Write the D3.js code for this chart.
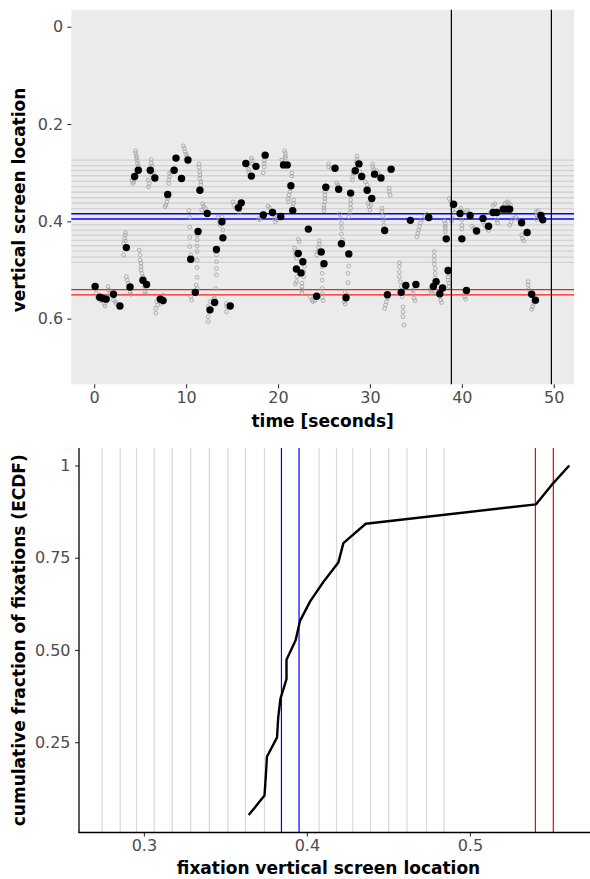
<!DOCTYPE html>
<html><head><meta charset="utf-8">
<script src="https://cdn.jsdelivr.net/npm/d3@7"></script>
<style>
body{margin:0;background:#fff}
svg{display:block}
text{font-family:"DejaVu Sans",sans-serif}
</style>
</head><body>
<svg id="chart" width="590" height="879"></svg>
<script>
// ---------- data ----------
const fixTime = [0.1,0.6,0.9,1.3,2.1,2.8,3.5,3.9,4.4,4.8,
  5.3,5.7,6.1,6.6,7.2,7.5,8.0,8.7,8.9,9.5,
  10.2,10.5,11.0,11.3,11.5,12.3,12.6,13.1,13.3,13.9,
  14.0,14.8,15.7,16.0,16.5,17.1,17.6,18.4,18.6,19.4,
  20.3,20.6,21.0,21.4,21.6,22.0,22.2,22.5,22.7,23.3,
  24.2,24.7,25.0,25.2,26.2,26.6,26.9,27.4,27.7,27.9,
  28.4,28.8,29.1,29.7,30.2,30.5,31.2,31.6,31.9,32.3,
  33.4,33.9,34.4,35.0,36.4,36.9,37.2,37.6,37.9,38.3,
  38.5,39.1,39.8,40.0,40.5,40.9,41.6,42.3,42.9,43.4,
  43.8,44.5,44.9,45.2,46.5,47.1,47.6,48.0,48.6,48.8];
const fixLoc = [0.534,0.556,0.558,0.560,0.550,0.574,0.454,0.535,0.308,0.295,
  0.521,0.530,0.295,0.311,0.560,0.563,0.345,0.295,0.270,0.312,
  0.274,0.478,0.546,0.421,0.336,0.384,0.582,0.567,0.458,0.401,
  0.434,0.574,0.372,0.362,0.281,0.307,0.287,0.387,0.264,0.382,
  0.390,0.284,0.284,0.327,0.378,0.498,0.466,0.506,0.483,0.416,
  0.554,0.463,0.487,0.330,0.291,0.334,0.446,0.557,0.467,0.342,
  0.296,0.282,0.308,0.336,0.353,0.303,0.311,0.419,0.551,0.293,
  0.546,0.532,0.398,0.530,0.392,0.534,0.524,0.549,0.537,0.436,
  0.501,0.365,0.384,0.436,0.542,0.388,0.420,0.394,0.410,0.382,
  0.382,0.375,0.375,0.375,0.403,0.423,0.550,0.562,0.388,0.397];

// raw gaze samples [time, vertical location]
const gazeSamples = [
[0.2,0.548],[0.3,0.555],[0.4,0.558],[0.7,0.563],[1.1,0.570],[1.2,0.574],[1.5,0.534],[1.6,0.541],[1.7,0.548],[1.5,0.555],
[2.1,0.562],[2.3,0.565],[2.4,0.569],
[3.4,0.423],[3.4,0.428],[3.3,0.435],[3.4,0.440],[3.2,0.445],[3.2,0.469],
[3.5,0.514],[3.6,0.521],[3.7,0.527],[3.8,0.538],[3.9,0.545],[4.0,0.550],
[4.5,0.255],[4.5,0.260],[4.6,0.266],[4.6,0.270],[4.7,0.275],[4.7,0.281],[4.8,0.286],[4.1,0.315],[4.2,0.322],[4.3,0.319],[4.3,0.312],
[4.9,0.459],[5.0,0.469],[5.0,0.480],[5.1,0.486],[5.1,0.493],[5.1,0.500],[5.2,0.507],[5.3,0.514],[5.3,0.521],[5.5,0.534],[5.5,0.545],[5.6,0.549],
[6.2,0.273],[6.2,0.280],[6.3,0.286],[6.4,0.300],[6.3,0.305],[5.9,0.315],[6.0,0.322],[5.9,0.329],
[6.8,0.565],[6.9,0.572],[6.7,0.579],[6.7,0.589],[7.0,0.558],[7.3,0.569],[7.5,0.552],
[8.0,0.353],[7.9,0.360],[7.8,0.367],[7.7,0.370],
[8.2,0.301],[8.2,0.308],[8.1,0.315],[8.1,0.322],[8.4,0.298],
[9.7,0.245],[9.8,0.250],[9.9,0.257],[10.0,0.262],[10.1,0.267],
[10.3,0.378],[10.4,0.392],[10.4,0.412],[10.4,0.433],[10.4,0.452],[10.5,0.469],[10.6,0.562],[10.5,0.555],
[11.4,0.282],[11.4,0.289],[11.5,0.298],[11.5,0.305],[11.5,0.312],[11.6,0.319],[11.6,0.325],
[11.2,0.428],[11.2,0.438],[11.2,0.451],[11.2,0.462],[11.2,0.480],[11.2,0.495],[11.2,0.515],[11.1,0.531],[11.2,0.538],
[11.8,0.364],[11.9,0.369],[12.1,0.373],[11.7,0.377],
[12.4,0.575],[12.5,0.586],[12.4,0.596],[12.4,0.606],[12.6,0.565],[13.0,0.560],[13.1,0.558],
[13.3,0.469],[13.3,0.483],[13.3,0.497],[13.3,0.510],[13.2,0.538],[13.5,0.392],[13.6,0.401],[13.7,0.408],[13.9,0.391],[14.0,0.418],
[14.4,0.569],[14.4,0.575],[14.4,0.586],
[15.1,0.360],[15.2,0.367],[15.4,0.373],[15.8,0.382],
[17.1,0.270],[17.2,0.275],[17.2,0.282],[16.8,0.293],[16.8,0.298],
[18.5,0.275],[18.5,0.281],[18.5,0.288],[18.4,0.300],
[20.7,0.255],[20.8,0.260],[20.8,0.266],[20.8,0.270],[20.4,0.274],[20.5,0.280],
[21.5,0.301],[21.5,0.307],[21.3,0.339],[21.2,0.346],[21.1,0.353],[21.1,0.360],[21.7,0.356],[21.7,0.363],[21.6,0.370],
[17.9,0.394],[18.0,0.397],[18.2,0.392],[18.9,0.369],[19.1,0.372],[19.3,0.378],[19.6,0.394],[19.7,0.401],[19.9,0.397],[20.0,0.391],
[22.2,0.437],[22.3,0.442],[21.8,0.455],[21.9,0.462],[21.9,0.469],[22.0,0.476],[22.1,0.514],[22.0,0.524],[21.9,0.529],[22.6,0.527],[22.6,0.534],[22.6,0.541],[22.6,0.547],[22.8,0.504],[22.9,0.493],[22.8,0.514],
[23.5,0.555],[23.7,0.562],[23.8,0.565],[24.0,0.563],[24.8,0.549],[24.8,0.556],[24.9,0.563],
[24.5,0.440],[24.5,0.447],[24.4,0.453],[24.3,0.462],[24.2,0.469],[24.8,0.493],[24.8,0.507],[24.8,0.521],[24.8,0.538],
[25.1,0.339],[25.1,0.346],[25.1,0.353],[25.1,0.360],[25.0,0.367],[25.0,0.373],[25.0,0.378],
[25.5,0.282],[25.5,0.288],[25.8,0.291],[26.4,0.321],[26.5,0.325],
[26.7,0.385],[26.8,0.394],[26.9,0.404],[26.9,0.414],[26.9,0.426],[27.0,0.438],
[27.3,0.545],[27.3,0.555],[27.2,0.565],[27.3,0.570],[27.6,0.552],
[27.7,0.492],[27.6,0.507],[27.6,0.526],
[27.9,0.356],[27.9,0.364],[27.9,0.373],[27.8,0.382],[27.7,0.391],
[28.6,0.266],[28.6,0.273],[28.5,0.278],[28.2,0.301],[28.1,0.308],[28.1,0.315],[28.9,0.298],
[29.5,0.319],[29.7,0.325],[29.8,0.363],[29.9,0.370],[30.0,0.377],[30.1,0.367],
[30.3,0.282],[30.3,0.288],[30.4,0.293],[30.7,0.296],[30.9,0.301],
[31.3,0.373],[31.3,0.380],[31.4,0.389],[31.5,0.397],[31.5,0.408],
[31.9,0.558],[31.8,0.565],[31.7,0.572],[31.6,0.579],
[32.1,0.332],[32.1,0.339],[32.2,0.346],
[33.2,0.485],[33.2,0.493],[33.2,0.504],[33.2,0.514],[33.3,0.524],[33.4,0.534],[33.5,0.545],[33.5,0.555],[33.6,0.576],[33.6,0.586],[33.6,0.596],[33.7,0.613],
[34.7,0.541],[34.7,0.549],[34.8,0.558],[34.9,0.563],
[35.1,0.432],[35.2,0.425],[35.3,0.418],[35.4,0.410],[35.5,0.403],[35.7,0.396],[36.0,0.389],[36.2,0.385],
[37.0,0.462],[37.0,0.471],[37.0,0.480],[37.0,0.488],[37.1,0.497],[37.1,0.507],[37.1,0.517],[36.5,0.541],[36.7,0.547],[36.9,0.549],[37.6,0.555],[37.7,0.562],[37.8,0.567],
[38.5,0.507],[38.5,0.514],[38.5,0.521],[38.6,0.527],[38.6,0.534],
[38.1,0.399],[38.2,0.404],[38.2,0.410],[38.2,0.414],[38.2,0.421],
[38.6,0.353],[38.8,0.360],[38.9,0.367],[39.0,0.377],[39.2,0.382],[39.0,0.394],[38.9,0.399],
[39.9,0.373],[40.0,0.397],[40.0,0.408],[40.0,0.416],[40.1,0.380],
[40.3,0.548],[40.3,0.555],[40.4,0.560],
[40.6,0.378],[40.7,0.382],[41.1,0.410],[41.3,0.414],[41.4,0.419],
[42.2,0.391],[42.3,0.401],[42.5,0.408],[42.7,0.414],[42.9,0.419],
[43.1,0.382],[43.3,0.378],[43.4,0.367],[43.6,0.364],[43.8,0.397],[43.9,0.403],[44.5,0.370],[44.7,0.363],[44.9,0.360],[45.1,0.362],[45.3,0.367],
[45.2,0.408],[45.4,0.401],[45.6,0.394],[45.9,0.392],[46.1,0.396],
[46.5,0.428],[46.6,0.435],[46.7,0.440],
[47.2,0.524],[47.2,0.531],[47.3,0.540],[47.4,0.548],[47.8,0.569],[47.7,0.576],[47.6,0.581],
[48.1,0.380],[48.1,0.387],[48.1,0.396],[48.3,0.378]
];

const textLineLocs = [0.2743,0.2855,0.2955,0.3063,0.3174,0.3287,0.3402,0.3515,0.3623,0.3740,
  0.4075,0.4182,0.4282,0.4390,0.4502,0.4614,0.4734,0.4842];
const blueLineLocs = [0.3844,0.3952];
const redLineLocs = [0.5402,0.5512];
const windowBounds = [38.86,49.74];

// sorted fixation locations inside the window (ECDF)
const ecdfLocs = [0.3643,0.3740,0.3748,0.3755,0.3817,0.3824,0.3838,0.3875,0.3875,0.3931,
  0.3958,0.4020,0.4101,0.4193,0.4224,0.4361,0.5406,0.5502,0.5610];

const timeTicks = [0,10,20,30,40,50];
const timeTickLabels = ["0","10","20","30","40","50"];
const locTicks = [0,0.2,0.4,0.6];
const locTickLabels = ["0","0.2","0.4","0.6"];
const fracTicks = [0.25,0.5,0.75,1];
const fracTickLabels = ["0.25","0.50","0.75","1"];
const ecdfXTicks = [0.3,0.4,0.5];
const ecdfXTickLabels = ["0.3","0.4","0.5"];

// ---------- drawing ----------
const svg = d3.select("#chart");
const TICK_FS = 16, TITLE_FS = 17;

function styleAxis(g, labelColor) {
  g.select(".domain").remove();
  g.selectAll(".tick line").attr("stroke", "#333").attr("stroke-width", 1.1);
  g.selectAll(".tick text").attr("fill", labelColor).attr("font-size", TICK_FS)
    .attr("font-family", "DejaVu Sans");
}

// ===== top panel =====
const P1 = {l: 71.3, r: 574, t: 9.7, b: 384.3};
const tx = d3.scaleLinear().domain([-2.49, 52.2]).range([P1.l, P1.r]);
const ty = d3.scaleLinear().domain([-0.035, 0.735]).range([P1.t, P1.b]);

const topG = svg.append("g");
topG.append("rect").attr("x", P1.l).attr("y", P1.t)
  .attr("width", P1.r - P1.l).attr("height", P1.b - P1.t).attr("fill", "#ebebeb");

topG.append("g").selectAll("line").data(textLineLocs).join("line")
  .attr("x1", P1.l).attr("x2", P1.r).attr("y1", d => ty(d)).attr("y2", d => ty(d))
  .attr("stroke", "#d2d2d2").attr("stroke-width", 1.3);
topG.append("g").selectAll("line").data(blueLineLocs).join("line")
  .attr("x1", P1.l).attr("x2", P1.r).attr("y1", d => ty(d)).attr("y2", d => ty(d))
  .attr("stroke", "#0000ff").attr("stroke-width", 1.3);
topG.append("g").selectAll("line").data(redLineLocs).join("line")
  .attr("x1", P1.l).attr("x2", P1.r).attr("y1", d => ty(d)).attr("y2", d => ty(d))
  .attr("stroke", "#ff1a1a").attr("stroke-width", 1.3);

topG.append("g").selectAll("circle").data(gazeSamples).join("circle")
  .attr("cx", d => tx(d[0])).attr("cy", d => ty(d[1])).attr("r", 1.9)
  .attr("fill", "none").attr("stroke", "#a0a0a0").attr("stroke-width", 0.8);

topG.append("g").selectAll("circle").data(fixTime.map((t, i) => [t, fixLoc[i]])).join("circle")
  .attr("cx", d => tx(d[0])).attr("cy", d => ty(d[1])).attr("r", 3.7).attr("fill", "#000");

topG.append("g").selectAll("line").data(windowBounds).join("line")
  .attr("x1", d => tx(d)).attr("x2", d => tx(d)).attr("y1", P1.t).attr("y2", P1.b)
  .attr("stroke", "#000").attr("stroke-width", 1.2);

const tyAxis = svg.append("g").attr("transform", `translate(${P1.l},0)`)
  .call(d3.axisLeft(ty).tickValues(locTicks).tickFormat((d, i) => locTickLabels[i]).tickSize(4).tickPadding(4));
styleAxis(tyAxis, "#4d4d4d");
const txAxis = svg.append("g").attr("transform", `translate(0,${P1.b})`)
  .call(d3.axisBottom(tx).tickValues(timeTicks).tickFormat((d, i) => timeTickLabels[i]).tickSize(4).tickPadding(3));
styleAxis(txAxis, "#4d4d4d");

svg.append("text").attr("x", (P1.l + P1.r) / 2).attr("y", 427)
  .attr("text-anchor", "middle").attr("font-size", TITLE_FS).attr("font-weight", "bold")
  .text("time [seconds]");
svg.append("text").attr("transform", `translate(25,${(P1.t + P1.b) / 2 + 3}) rotate(-90)`)
  .attr("text-anchor", "middle").attr("font-size", TITLE_FS).attr("font-weight", "bold")
  .text("vertical screen location");

// ===== bottom panel =====
const P2 = {l: 79, r: 590, t: 448, b: 832.5};
const bx = d3.scaleLinear().domain([0.2602, 0.5737]).range([P2.l, P2.r]);
const by = d3.scaleLinear().domain([0.0053, 1.0474]).range([P2.b, P2.t]);

const botG = svg.append("g");
botG.append("g").selectAll("line").data(textLineLocs).join("line")
  .attr("x1", d => bx(d)).attr("x2", d => bx(d)).attr("y1", P2.t).attr("y2", P2.b)
  .attr("stroke", "#d9d9d9").attr("stroke-width", 1.2);
botG.append("g").selectAll("line").data(blueLineLocs).join("line")
  .attr("x1", d => bx(d)).attr("x2", d => bx(d)).attr("y1", P2.t).attr("y2", P2.b)
  .attr("stroke", "#0000ff").attr("stroke-width", 1.2);
botG.append("g").selectAll("line").data(redLineLocs).join("line")
  .attr("x1", d => bx(d)).attr("x2", d => bx(d)).attr("y1", P2.t).attr("y2", P2.b)
  .attr("stroke", "#ff0000").attr("stroke-width", 1.2);

const n = ecdfLocs.length;
const ecdfLine = d3.line().x(d => bx(d[0])).y(d => by(d[1]));
botG.append("path").datum(ecdfLocs.map((v, i) => [v, (i + 1) / n]))
  .attr("d", ecdfLine).attr("fill", "none").attr("stroke", "#000")
  .attr("stroke-width", 2.4).attr("stroke-linejoin", "round");

const byAxis = svg.append("g").attr("transform", `translate(${P2.l},0)`)
  .call(d3.axisLeft(by).tickValues(fracTicks).tickFormat((d, i) => fracTickLabels[i]).tickSize(4).tickPadding(4.5));
styleAxis(byAxis, "#4d4d4d");
const bxAxis = svg.append("g").attr("transform", `translate(0,${P2.b})`)
  .call(d3.axisBottom(bx).tickValues(ecdfXTicks).tickFormat((d, i) => ecdfXTickLabels[i]).tickSize(4).tickPadding(3));
styleAxis(bxAxis, "#4d4d4d");

svg.append("line").attr("x1", P2.l).attr("x2", P2.l).attr("y1", P2.t).attr("y2", P2.b + 0.6)
  .attr("stroke", "#000").attr("stroke-width", 1.3);
svg.append("line").attr("x1", P2.l - 0.6).attr("x2", P2.r).attr("y1", P2.b).attr("y2", P2.b)
  .attr("stroke", "#000").attr("stroke-width", 1.3);

svg.append("text").attr("x", (P2.l + P2.r) / 2 - 6).attr("y", 874)
  .attr("text-anchor", "middle").attr("font-size", TITLE_FS).attr("font-weight", "bold")
  .text("fixation vertical screen location");
svg.append("text").attr("transform", `translate(25,${(P2.t + P2.b) / 2}) rotate(-90)`)
  .attr("text-anchor", "middle").attr("font-size", TITLE_FS).attr("font-weight", "bold")
  .text("cumulative fraction of fixations (ECDF)");
</script>
</body></html>
